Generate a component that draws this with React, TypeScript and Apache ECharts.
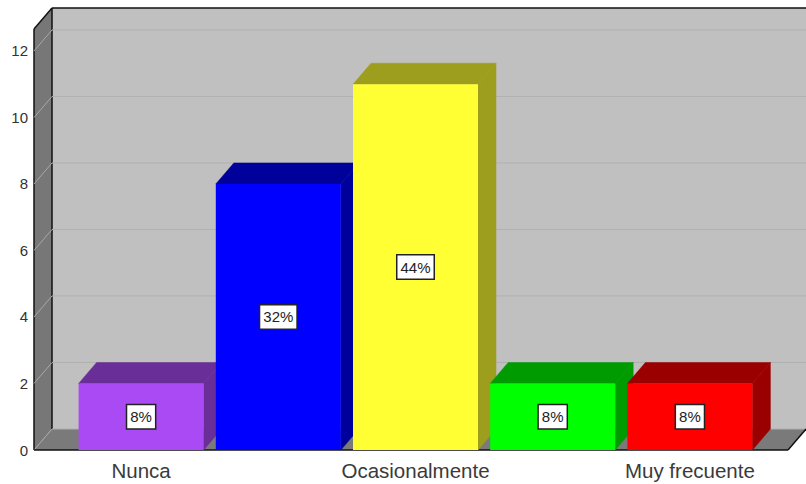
import React, { useEffect, useRef } from "react";
import * as echarts from "echarts";

const categories = ["Nunca", "", "Ocasionalmente", "", "Muy frecuente"];
const values = [2, 8, 11, 2, 2];
const percentLabels = ["8%", "32%", "44%", "8%", "8%"];
const frontColors = ["#AA4AF5", "#0000FF", "#FFFF33", "#00FF00", "#FF0000"];
const shadeColors = ["#6A2E98", "#00009B", "#9E9E1E", "#009B00", "#9B0000"];
const gridValues = [0, 2, 4, 6, 8, 10, 12];
const yMax = 12.66;

const LEFT = 34;
const RIGHT = 788;
const TOP = 29;
const BASE = 450;
const DX = 18;
const DY = 21;
const BAR_W = 125;

function poly(points: number[][], fill: string, z = 0) {
  return { type: "polygon", z, silent: true, shape: { points }, style: { fill } };
}
function seg(x1: number, y1: number, x2: number, y2: number, stroke = "#111111") {
  return { type: "line", z: 5, silent: true, shape: { x1, y1, x2, y2 }, style: { stroke, lineWidth: 1.5 } };
}

export default function App() {
  const ref = useRef<HTMLDivElement>(null);
  useEffect(() => {
    const chart = echarts.init(ref.current!, undefined, { renderer: "svg" });
    chart.setOption({
      animation: false,
      backgroundColor: "#FFFFFF",
      grid: { left: 72.5, width: 686, top: TOP, bottom: 484 - BASE },
      xAxis: {
        type: "category",
        data: categories,
        axisLine: { show: false },
        axisTick: { show: false },
        axisLabel: {
          interval: 0,
          margin: 10,
          fontSize: 20.5,
          color: "#3A3A3A",
          fontFamily: "Liberation Sans",
        },
      },
      yAxis: {
        type: "value",
        min: 0,
        max: yMax,
        interval: 2,
        offset: 38.5,
        axisLine: { show: false },
        axisTick: { show: false },
        splitLine: { show: false },
        axisLabel: {
          margin: 6,
          fontSize: 15,
          color: "#333333",
          fontFamily: "Liberation Sans",
          showMaxLabel: false,
        },
      },
      graphic: {
        elements: [
          { type: "rect", z: 0, silent: true, shape: { x: LEFT + DX, y: TOP - DY, width: 806 - LEFT - DX, height: BASE - TOP }, style: { fill: "#C0C0C0" } },
          poly([[LEFT, TOP], [LEFT + DX, TOP - DY], [LEFT + DX, BASE - DY], [LEFT, BASE]], "#777777"),
          poly([[LEFT, BASE], [LEFT + DX, BASE - DY], [806, BASE - DY], [RIGHT, BASE]], "#7A7A7A"),
        ],
      },
      series: [
        {
          type: "custom",
          z: 1,
          silent: true,
          data: gridValues.map((v) => [0, v]),
          encode: { x: 0, y: 1 },
          renderItem: (_p: any, api: any) => {
            const y = api.coord([0, api.value(1)])[1];
            return {
              type: "group",
              children: [
                { type: "line", shape: { x1: LEFT, y1: y, x2: LEFT + DX, y2: y - DY }, style: { stroke: "#A8A8A8", lineWidth: 1 } },
                { type: "line", shape: { x1: LEFT + DX, y1: y - DY, x2: 806, y2: y - DY }, style: { stroke: "#B0B0B0", lineWidth: 1 } },
              ],
            };
          },
        },
        {
          type: "custom",
          z: 2,
          silent: true,
          data: values.map((v, i) => [i, v]),
          encode: { x: 0, y: 1 },
          renderItem: (p: any, api: any) => {
            const i = p.dataIndex;
            const [cx, top] = api.coord([api.value(0), api.value(1)]);
            const [, base] = api.coord([api.value(0), 0]);
            const x0 = cx - BAR_W / 2;
            const x1 = cx + BAR_W / 2;
            const shade = shadeColors[i];
            return {
              type: "group",
              children: [
                { type: "polygon", shape: { points: [[x0, top], [x0 + DX, top - DY], [x1 + DX, top - DY], [x1, top]] }, style: { fill: shade, stroke: shade, lineWidth: 0.5 } },
                { type: "polygon", shape: { points: [[x1, top], [x1 + DX, top - DY], [x1 + DX, base - DY], [x1, base]] }, style: { fill: shade, stroke: shade, lineWidth: 0.5 } },
                { type: "rect", shape: { x: x0, y: top, width: BAR_W, height: base - top }, style: { fill: frontColors[i] } },
                {
                  type: "text",
                  x: cx,
                  y: (top + base) / 2,
                  style: {
                    text: percentLabels[i],
                    align: "center",
                    verticalAlign: "middle",
                    fontSize: 15,
                    fontFamily: "Liberation Sans",
                    fill: "#222222",
                    backgroundColor: "#FFFFFF",
                    borderColor: "#222222",
                    borderWidth: 1.5,
                    padding: [4, 3, 4, 3],
                  },
                },
              ],
            };
          },
        },
        {
          type: "custom",
          z: 0,
          silent: true,
          data: [[0, 0]],
          encode: { x: 0, y: 1 },
          renderItem: () => ({
            type: "group",
            children: [
              seg(LEFT + DX, TOP - DY, 806, TOP - DY),
              seg(LEFT + DX, TOP - DY, LEFT + DX, BASE - DY),
              seg(LEFT, TOP, LEFT + DX, TOP - DY),
              seg(LEFT, TOP, LEFT, BASE),
            ],
          }),
        },
        {
          type: "custom",
          z: 1,
          silent: true,
          data: [[0, 0]],
          encode: { x: 0, y: 1 },
          renderItem: () => ({
            type: "group",
            children: [seg(LEFT, BASE, RIGHT, BASE), seg(RIGHT, BASE, 806, BASE - DY)],
          }),
        },
      ],
    });
    return () => chart.dispose();
  }, []);
  return <div ref={ref} style={{ position: "fixed", left: 0, top: 0, width: 806, height: 484 }} />;
}
